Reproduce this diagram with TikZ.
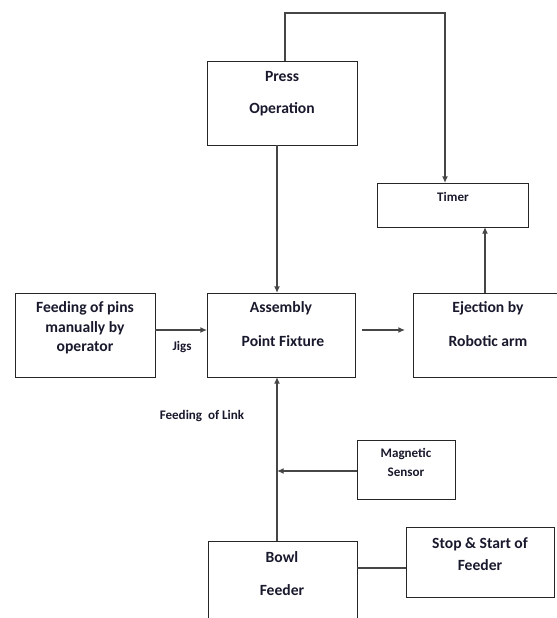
\documentclass[tikz,border=0pt]{standalone}
\usepackage{fontspec}
\setmainfont{Carlito}
\usetikzlibrary{arrows.meta}
\definecolor{txt}{RGB}{25,25,45}
\definecolor{ln}{RGB}{70,70,70}
\tikzset{
  box/.style={draw=black!85, line width=0.9pt, rectangle, inner sep=0pt},
  lbl/.style={text=txt, font=\bfseries\fontsize{11.7}{14.6}\selectfont, align=center, inner sep=0pt},
  slbl/.style={text=txt, font=\bfseries\fontsize{9.8}{14.2}\selectfont, align=center, inner sep=0pt},
  conn/.style={draw=ln, line width=1.1pt},
  arr/.style={conn, -{Latex[length=5pt,width=4.5pt]}},
}
\begin{document}
\begin{tikzpicture}[x=0.75pt,y=-0.75pt]
\clip (0,0) rectangle (557,618);
\useasboundingbox (0,0) rectangle (557,618);
% boxes
\node[box, minimum width=150*0.75pt, minimum height=84*0.75pt, anchor=north west] (press) at (207,61) {};
\node[box, minimum width=151*0.75pt, minimum height=44*0.75pt, anchor=north west] (timer) at (377,183) {};
\node[box, minimum width=140*0.75pt, minimum height=84*0.75pt, anchor=north west] (feed) at (15,293) {};
\node[box, minimum width=148*0.75pt, minimum height=84*0.75pt, anchor=north west] (asm) at (207,293) {};
\node[box, minimum width=160*0.75pt, minimum height=84*0.75pt, anchor=north west] (eject) at (413,293) {};
\node[box, minimum width=98*0.75pt, minimum height=59*0.75pt, anchor=north west] (mag) at (357,440) {};
\node[box, minimum width=149*0.75pt, minimum height=100*0.75pt, anchor=north west] (bowl) at (208,541) {};
\node[box, minimum width=148*0.75pt, minimum height=70*0.75pt, anchor=north west] (stop) at (406,527) {};
% texts
\node[lbl] (t1) at (282,76) {Press};
\node[lbl] (t2) at (282,109) {Operation};
\node[slbl] (t3) at (453,197) {Timer};
\node[lbl] (t4) at (85,328) {Feeding of pins\\manually by\\operator};
\node[lbl] (t5) at (281,308) {Assembly};
\node[lbl] (t6) at (283,341) {Point Fixture};
\node[lbl] (t7) at (488,308) {Ejection by};
\node[lbl] (t8) at (488,341) {Robotic arm};
\node[slbl] (t9) at (182,347) {Jigs};
\node[slbl] (t10) at (202,416) {Feeding\ \ of Link};
\node[slbl] (t11) at (406,462) {Magnetic\\Sensor};
\node[lbl] (t12) at (282,557) {Bowl};
\node[lbl] (t13) at (282,590) {Feeder};
\node[lbl, font=\bfseries\fontsize{11.7}{16.5}\selectfont] (t14) at (480,554) {Stop \& Start of\\Feeder};
% coordinates
\coordinate (pt) at (285,61);
\coordinate (c1) at (285,13);
\coordinate (c2) at (445,13);
\coordinate (tt) at (445,183);
\coordinate (pb) at (277,145);
\coordinate (at) at (277,293);
\coordinate (ab) at (277,377);
\coordinate (bt) at (277,541);
\coordinate (ml) at (357,471);
\coordinate (mj) at (277,471);
\coordinate (fr) at (155,330);
\coordinate (al) at (207,330);
\coordinate (a1) at (362,330);
\coordinate (a2) at (405,330);
\coordinate (eu) at (485,293);
\coordinate (tb) at (485,227);
\coordinate (br) at (357,568);
\coordinate (sl) at (406,568);
% connectors
\draw[arr] (pt) -- (c1) -- (c2) -- (tt);
\draw[arr] (pb) -- (at);
\draw[arr] (bt) -- (ab);
\draw[arr] (ml) -- (mj);
\draw[arr] (fr) -- (al);
\draw[arr] (a1) -- (a2);
\draw[arr] (eu) -- (tb);
\draw[conn] (br) -- (sl);
\end{tikzpicture}
\end{document}
